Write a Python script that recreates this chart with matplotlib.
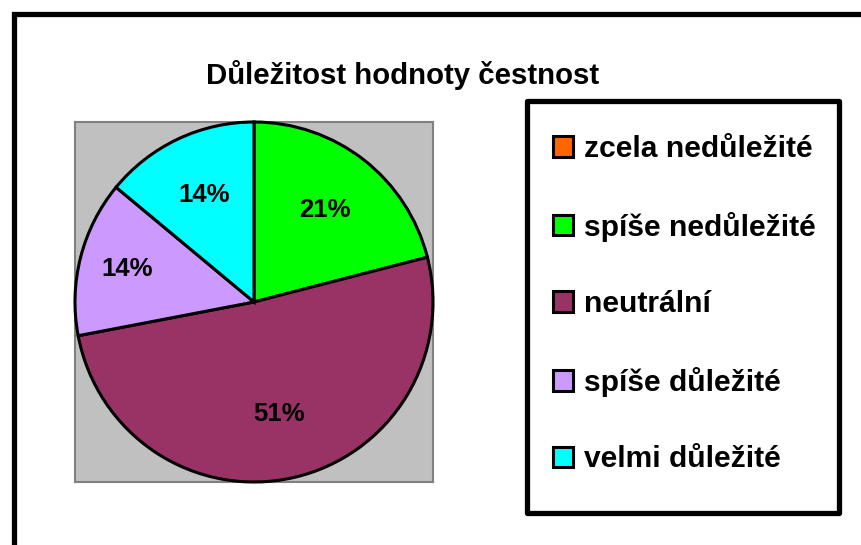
#!/usr/bin/env python3

# pie chart: importance of honesty (Excel style)

import matplotlib
matplotlib.use('Agg')
import matplotlib.pyplot as plt
from matplotlib.patches import Patch, Rectangle
import numpy as np

plt.rcParams['font.family'] = ['Liberation Sans', 'DejaVu Sans']
plt.rcParams['font.weight'] = 'bold'

title = 'Důležitost hodnoty čestnost'
categories = ['zcela nedůležité', 'spíše nedůležité', 'neutrální',
              'spíše důležité', 'velmi důležité']
shares = [0, 21, 51, 14, 14]
colors = ['#FF6600', '#00FF00', '#993366', '#CC99FF', '#00FFFF']
label_dist = [0.65, 0.65, 0.64, 0.73, 0.66]

W, H = 861, 545
fig = plt.figure(figsize=(W / 100, H / 100), dpi=100)

# outer chart border (only left and top visible in the crop)
fig.patches.append(Rectangle((13.5 / W, -0.1), 1.2, 1 - 13.5 / H + 0.1,
                             transform=fig.transFigure, fill=False,
                             edgecolor='black', linewidth=3.8, zorder=0))

ax = fig.add_axes([75 / W, 1 - 482 / H, 358 / W, 360 / H])
wedges, _ = ax.pie(shares, colors=colors, startangle=90, counterclock=False,
                   radius=1.0,
                   wedgeprops={'edgecolor': 'black', 'linewidth': 2.2})
for w in wedges:
    w.set_clip_on(False)
    w.set_zorder(3)
ax.set_aspect('auto')
ax.set_xlim(-1.0, 1.0)
ax.set_ylim(-1.0, 1.0)
ax.set_frame_on(True)
ax.set_xticks([])
ax.set_yticks([])
ax.set_facecolor('#C0C0C0')
for sp in ax.spines.values():
    sp.set_edgecolor('#808080')
    sp.set_linewidth(1.5)
    sp.set_zorder(1)

total = sum(shares)
for w, v, d in zip(wedges, shares, label_dist):
    if v == 0:
        continue
    ang = np.deg2rad((w.theta1 + w.theta2) / 2)
    ax.text(d * np.cos(ang), d * np.sin(ang), f'{round(100 * v / total)}%',
            ha='center', va='center', fontsize=18.5, fontweight='bold',
            zorder=4)

fig.text(403 / W, 1 - 75 / H, title, ha='center', va='center',
         fontsize=21.2, fontweight='bold')

# legend box drawn separately so it matches the Excel frame
fig.patches.append(Rectangle((527 / W, 1 - 513 / H), 312 / W, 412 / H,
                             transform=fig.transFigure, facecolor='white',
                             edgecolor='black', linewidth=3.8,
                             joinstyle='round', zorder=1))

handles = [Patch(facecolor=c, edgecolor='black', linewidth=2.2) for c in colors]
leg = fig.legend(handles, categories, loc='upper left',
                 bbox_to_anchor=(553 / W, 1 - 135 / H),
                 prop={'size': 21.6, 'weight': 'bold'},
                 handlelength=0.68, handleheight=0.68, handletextpad=0.35,
                 labelspacing=1.62, borderpad=0, borderaxespad=0,
                 frameon=False)

fig.savefig('out.png', dpi=100)
